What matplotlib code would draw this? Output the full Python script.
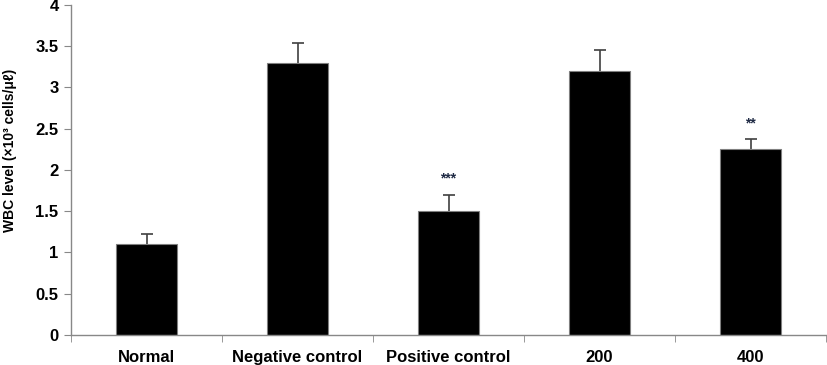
import matplotlib
matplotlib.use("Agg")
import matplotlib.pyplot as plt
import numpy as np

categories = ["Normal", "Negative control", "Positive control", "200", "400"]
values = [1.10, 3.30, 1.50, 3.20, 2.25]
errors = [0.13, 0.24, 0.20, 0.26, 0.12]
stars = ["", "", "***", "", "**"]
yticks = [0, 0.5, 1, 1.5, 2, 2.5, 3, 3.5, 4]
yticklabels = ["0", "0.5", "1", "1.5", "2", "2.5", "3", "3.5", "4"]

plt.rcParams['font.family'] = ['Liberation Sans', 'DejaVu Sans']

fig = plt.figure(figsize=(8.27, 3.65), dpi=100)
ax = fig.add_axes([0.0859, 0.0822, 0.9129, 0.9041])

x = np.arange(len(categories))
ax.bar(x, values, width=0.4, color='black', edgecolor='#7f7f7f', linewidth=0.8, zorder=2)
ax.errorbar(x, values, yerr=errors, fmt='none',
            ecolor='#404040', elinewidth=1.2, capsize=4, capthick=1.2, zorder=1)
for xi, v, e, s in zip(x, values, errors, stars):
    if s:
        ax.text(xi, v + e + 0.2, s, ha='center', va='center', fontsize=10,
                fontweight='bold', color='#1f2a44')

ax.set_xlim(-0.5, len(categories) - 0.5)
ax.set_ylim(0, 4)
ax.set_yticks(yticks)
ax.set_yticklabels(yticklabels, fontsize=12, fontweight='bold')
ax.set_xticks(x)
ax.set_xticklabels(categories, fontsize=12, fontweight='bold')
ax.set_xticks(np.arange(-0.5, len(categories)), minor=True)
ax.tick_params(axis='x', which='major', length=0, pad=11)
ax.tick_params(axis='x', which='minor', length=5, color='#888888', direction='out')
ax.tick_params(axis='y', length=5, color='#888888', direction='out', pad=4)

for sp in ['top', 'right']:
    ax.spines[sp].set_visible(False)
for sp in ['left', 'bottom']:
    ax.spines[sp].set_color('#888888')
    ax.spines[sp].set_linewidth(1.0)

ax.set_ylabel("WBC level (×10³ cells/μℓ)", fontsize=10, fontweight='bold')
ax.yaxis.set_label_coords(-0.072, 0.56)

fig.savefig("out.png", dpi=100)
